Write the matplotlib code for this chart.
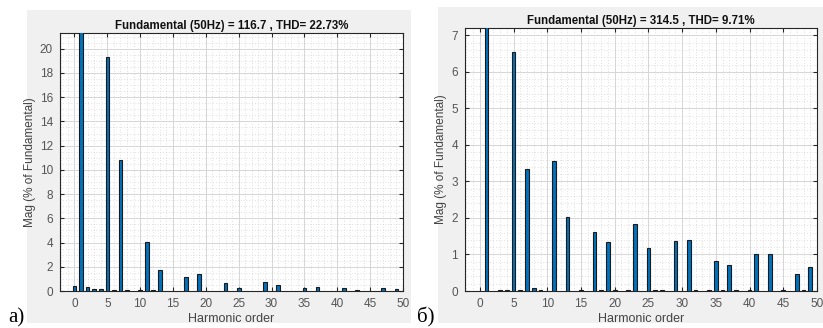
import numpy as np
import matplotlib.pyplot as plt
from matplotlib.patches import Rectangle
from matplotlib.ticker import MultipleLocator

# FFT spectra, harmonic order vs magnitude in % of fundamental
harm_a = [0, 1, 2, 3, 4, 5, 6, 7, 8, 10, 11, 12, 13, 17, 19, 23, 25,
          29, 31, 35, 37, 41, 43, 47, 49]
mag_a = [0.45, 100, 0.35, 0.15, 0.15, 19.3, 0.08, 10.85, 0.08, 0.08, 4.02,
         0.08, 1.75, 1.15, 1.37, 0.65, 0.25, 0.75, 0.47, 0.25, 0.3, 0.25,
         0.12, 0.25, 0.2]
title_a = "Fundamental (50Hz) = 116.7 , THD= 22.73%"

harm_b = [1, 3, 4, 5, 6, 7, 8, 9, 11, 13, 15, 17, 18, 19, 20, 22, 23, 25,
          26, 27, 29, 31, 32, 34, 35, 36, 37, 38, 40, 41, 43, 45, 47, 48, 49]
mag_b = [100, 0.02, 0.04, 6.55, 0.04, 3.35, 0.07, 0.02, 3.57, 2.03, 0.02,
         1.61, 0.02, 1.34, 0.04, 0.02, 1.83, 1.17, 0.02, 0.02, 1.37, 1.39,
         0.02, 0.02, 0.82, 0.02, 0.71, 0.02, 0.02, 1.0, 1.0, 0.02, 0.47,
         0.02, 0.65]
title_b = "Fundamental (50Hz) = 314.5 , THD= 9.71%"

W, H = 823, 328
fig = plt.figure(figsize=(W / 100, H / 100), dpi=100)
plt.rcParams['font.family'] = ['Liberation Sans', 'DejaVu Sans']

# grey MATLAB figure panels
for x0, y0, x1, y1 in [(27, 10, 411, 323), (438, 7, 823, 323)]:
    fig.patches.append(Rectangle((x0 / W, 1 - y1 / H), (x1 - x0) / W, (y1 - y0) / H,
                                 transform=fig.transFigure, facecolor='#f0f0f0',
                                 edgecolor='none', zorder=-5))

ax_a = fig.add_axes([60 / W, 1 - 291 / H, (403 - 60) / W, (291 - 33) / H])
ax_b = fig.add_axes([465 / W, 1 - 291 / H, (817 - 465) / W, (291 - 28) / H])

txt = '#262626'
for ax, h, m, ttl, ytop, ystep, yminor in [
        (ax_a, harm_a, mag_a, title_a, 21.3, 2, 0.5),
        (ax_b, harm_b, mag_b, title_b, 7.2, 1, 0.2)]:
    ax.bar(h, m, width=0.55, color='#0072bd', edgecolor='#1a1a1a',
           linewidth=0.8, zorder=3)
    ax.set_xlim(-2.2, 50)
    ax.set_ylim(0, ytop)
    ax.xaxis.set_major_locator(MultipleLocator(5))
    ax.xaxis.set_minor_locator(MultipleLocator(1))
    ax.yaxis.set_major_locator(MultipleLocator(ystep))
    ax.yaxis.set_minor_locator(MultipleLocator(yminor))
    ax.grid(which='major', color='#d6d6d6', linewidth=0.7, zorder=0)
    ax.grid(which='minor', color='#c4c4c4', linewidth=0.5, linestyle=(0, (1, 3)), zorder=0)
    ax.set_axisbelow(True)
    ax.tick_params(which='both', direction='in', top=True, right=True,
                   colors=txt, labelsize=8.5, labelcolor='#555555')
    ax.tick_params(which='major', length=3, pad=5)
    ax.tick_params(which='minor', length=0)
    for s in ax.spines.values():
        s.set_color(txt)
        s.set_linewidth(0.8)
    ax.set_title(ttl, fontsize=8.3, fontweight='bold', color='#111111', pad=3)
    ax.set_xlabel('Harmonic order', fontsize=9, color='#444444', labelpad=2)
    ax.set_ylabel('Mag (% of Fundamental)', fontsize=8.5, color='#444444', labelpad=3)

fig.text(8 / W, 1 - 322 / H, 'a)', fontsize=15, family='Liberation Serif', va='baseline')
fig.text(417 / W, 1 - 322 / H, 'б)', fontsize=15, family='Liberation Serif', va='baseline')

fig.savefig('out.png', dpi=100)
